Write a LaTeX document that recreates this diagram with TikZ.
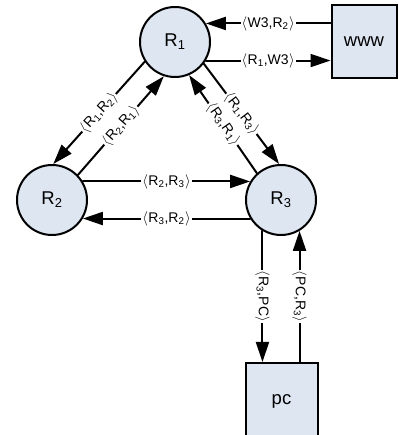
\documentclass[tikz,border=0pt]{standalone}
\usepackage{fontspec}
\setmainfont{Liberation Sans}
\usetikzlibrary{arrows.meta}
\definecolor{nodefill}{RGB}{222,230,242}
\newcommand\rt[1]{R\textsubscript{#1}}
\newcommand\pair[2]{$\langle$\kern.5pt#1,#2\kern.5pt$\rangle$}

\begin{document}
\begin{tikzpicture}[x=1pt, y=1pt, line width=2pt, line cap=round,
    router/.style={circle, draw, fill=nodefill, minimum size=70pt, inner sep=0pt, font=\fontsize{18.5}{18.5}\selectfont},
    host/.style={rectangle, draw, fill=nodefill, inner sep=0pt, font=\fontsize{18.5}{18.5}\selectfont},
    link/.style={-{Triangle[length=20pt,width=13pt]}},
    msg/.style={fill=white, inner sep=1pt, font=\fontsize{14}{14}\selectfont}]
      \useasboundingbox (0,0) rectangle (398,435);
      % routers
      \node[router] (R1) at (175,393) {\rt1};
      \node[router] (R2) at (52,235)  {\rt2};
      \node[router] (R3) at (281,235) {\rt3};
      % hosts
      \node[host, minimum width=65pt, minimum height=73pt] (www) at (364,393) {www};
      \node[host, minimum width=72pt, minimum height=76pt] (pc) at (281.5,34) {pc};
      % www link
      \draw[link] (www.west |- R1.31) -- node[msg] {\pair{W3}{\rt2}} (R1.31);
      \draw[link] (R1.-31) -- node[msg] {\pair{\rt1}{W3}} (www.west |- R1.-31);
      % triangle
      \draw[link] (R1.213) -- node[msg, sloped] {\pair{\rt1}{\rt2}} (R2.88);
      \draw[link] (R2.44)  -- node[msg, sloped] {\pair{\rt2}{\rt1}} (R1.252);
      \draw[link] (R1.323) -- node[msg, sloped] {\pair{\rt1}{\rt3}} (R3.93);
      \draw[link] (R3.132) -- node[msg, sloped] {\pair{\rt3}{\rt1}} (R1.293);
      \draw[link] (R2.31)  -- node[msg] {\pair{\rt2}{\rt3}} (R3.149);
      \draw[link] (R3.211) -- node[msg] {\pair{\rt3}{\rt2}} (R2.329);
      % pc link
      \draw[link] (R3.239) -- node[msg, rotate=-90] {\pair{\rt3}{PC}} (R3.239 |- pc.north);
      \draw[link] (R3.301 |- pc.north) -- node[msg, rotate=-90] {\pair{PC}{\rt3}} (R3.301);
    \end{tikzpicture}
\end{document}
